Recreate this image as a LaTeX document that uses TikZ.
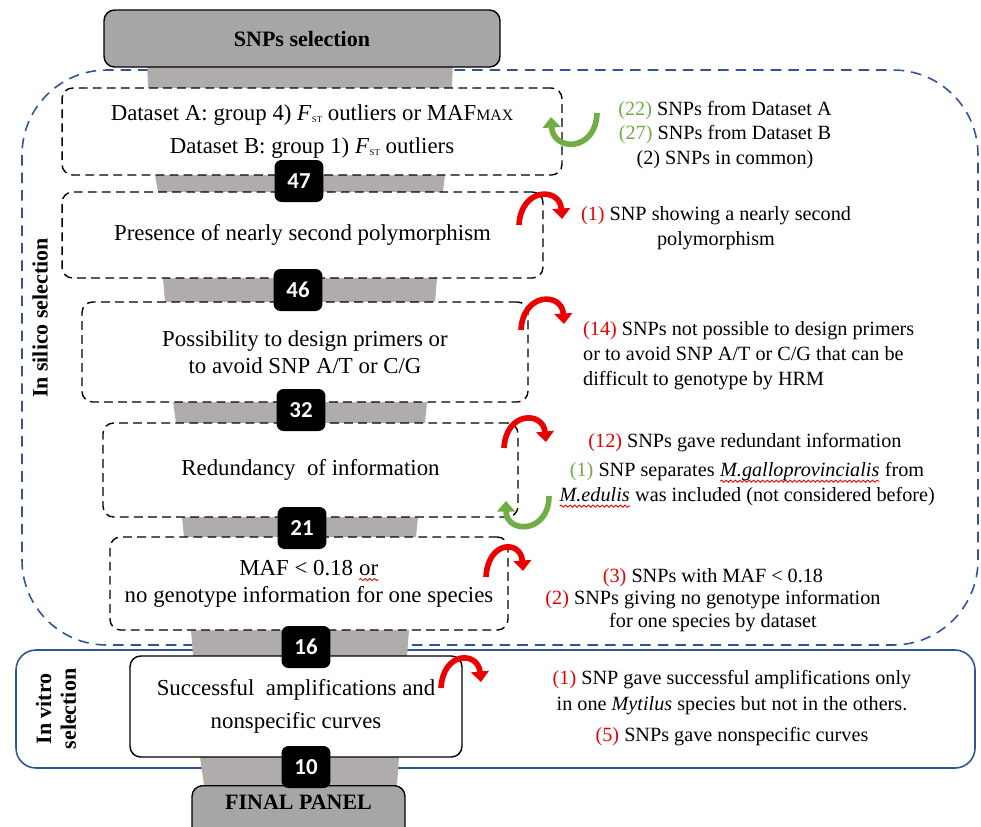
\documentclass[tikz,border=0pt]{standalone}
\usepackage{fontspec}
\setmainfont{Liberation Serif}
\newfontfamily\numfont{Carlito}
\usetikzlibrary{arrows.meta,decorations.pathmorphing}

\definecolor{funnelgray}{RGB}{176,172,172}
\definecolor{headgray}{RGB}{166,166,166}
\definecolor{silicoblue}{RGB}{47,85,151}
\definecolor{dropred}{RGB}{235,0,0}
\definecolor{keepgreen}{RGB}{112,173,71}

\tikzset{
  stagebox/.style={draw, dash pattern=on 5pt off 3pt, line width=0.8pt, rounded corners=6pt,
    fill=white, align=center, font=\fontsize{13}{15.5}\selectfont},
  numbox/.style={fill=black, rounded corners=4pt, text=white, font=\numfont\bfseries\fontsize{13}{13}\selectfont,
    minimum width=0.98cm, minimum height=0.84cm, inner sep=0pt},
  headbox/.style={draw, line width=0.8pt, fill=headgray, rounded corners=6pt, font=\bfseries\fontsize{12.5}{14}\selectfont},
  dropcurve/.style={draw=dropred, line width=3.2pt, -{Triangle[length=6pt,width=10pt]}},
  keepcurve/.style={draw=keepgreen, line width=3.2pt, -{Triangle[length=6pt,width=10pt]}},
  sidetext/.style={align=center, font=\fontsize{11.5}{14.2}\selectfont},
  plainword/.style={draw=none, fill=none, minimum width=0pt, minimum height=0pt, inner sep=0pt,
    outer sep=0pt, sharp corners, solid, align=left},
}

% F_ST and the red wavy spell-check line
\newcommand{\Fst}{\textit{F}\kern0.3pt\raisebox{-0.2ex}{\fontsize{5}{5}\selectfont ST}}
\newcommand{\squig}[1]{\tikz[baseline=(w.base)]{\node[plainword] (w) {#1};
  \draw[dropred, solid, sharp corners, line width=0.5pt, decorate, decoration={snake,amplitude=0.6pt,segment length=2.6pt}]
    ([yshift=-2.6pt]w.base west) -- ([yshift=-2.6pt]w.base east);}}

\begin{document}
\begin{tikzpicture}[x=0.02cm, y=-0.02cm]

    \useasboundingbox (0,0) rectangle (981,826);

    % In silico frame (dashed blue) and in vitro frame (solid blue)
    \draw[silicoblue, line width=0.9pt, dash pattern=on 6pt off 4pt, rounded corners=1.7cm] (22,70) rectangle (978,645);
    \draw[silicoblue, line width=0.9pt, rounded corners=0.4cm] (16,650) rectangle (975,768);

    % Funnel pieces between the stages
    \fill[funnelgray] (147,60) -- (453,60) -- (452,88) -- (148,88) -- cycle;
    \fill[funnelgray] (155,175) -- (445,175) -- (443,192) -- (158,192) -- cycle;
    \fill[funnelgray] (163,278) -- (437,278) -- (435,302) -- (165,302) -- cycle;
    \fill[funnelgray] (173,402) -- (427,402) -- (425,423) -- (176,423) -- cycle;
    \fill[funnelgray] (182,517) -- (418,517) -- (416,537) -- (184,537) -- cycle;
    \fill[funnelgray] (191,630) -- (409,630) -- (407,656) -- (193,656) -- cycle;
    \fill[funnelgray] (200,757) -- (399,757) -- (397,785) -- (204,785) -- cycle;

    % Header
    \node[headbox, minimum width=7.92cm, minimum height=1.14cm] (head) at (302,38.5) {SNPs selection};

    % Selection stages
    \node[stagebox, minimum width=10cm, minimum height=1.74cm] (stageA) at (312,131.5)
        {Dataset A: group 4) \Fst{} outliers or MAF{\fontsize{9}{9}\selectfont MAX}\\[3pt] Dataset B: group 1) \Fst{} outliers};
    \node[stagebox, minimum width=9.62cm, minimum height=1.72cm] (stageB) at (302.5,235)
        {Presence of nearly second polymorphism};
    \node[stagebox, minimum width=8.92cm, minimum height=2cm] (stageC) at (305,352)
        {Possibility to design primers or\\ to avoid SNP A/T or C/G};
    \node[stagebox, minimum width=8.3cm, minimum height=1.88cm] (stageD) at (310.5,470)
        {Redundancy\ \ of information};
    \node[stagebox, minimum width=7.96cm, minimum height=1.86cm] (stageE) at (309,583.5)
        {MAF < 0.18 \squig{or}\\ no genotype information for one species};
    \node[stagebox, solid, minimum width=6.64cm, minimum height=2.02cm] (stageF) at (296,706.5)
        {Successful\ \ amplifications and\\[3pt] nonspecific curves};

    % Final panel
    \node[headbox, anchor=north, inner ysep=0.18cm, text height=0.3cm, text depth=0.9cm, minimum width=4.26cm] (final) at (298.5,785) {FINAL PANEL};

    % SNP counts
    \node[numbox] (n47) at (299,181) {47};
    \node[numbox] (n46) at (298,290) {46};
    \node[numbox] (n32) at (301,410) {32};
    \node[numbox] (n21) at (302,528) {21};
    \node[numbox] (n16) at (306,647) {16};
    \node[numbox] (n10) at (306,767) {10};

    % Side labels
    \node[rotate=90, font=\bfseries\fontsize{12.5}{14}\selectfont] (silico) at (40,318) {In silico selection};
    \node[rotate=90, align=center, font=\bfseries\fontsize{12.5}{14}\selectfont] (vitro) at (56,709) {In vitro\\ selection};

    % Curved arrows
    \draw[keepcurve] (597,113) .. controls (596,152) and (553,152) .. (551,117);
    \draw[dropcurve] (519,225) .. controls (521,187) and (560,187) .. (562,219);
    \draw[dropcurve] (521,330) .. controls (523,292) and (562,292) .. (564,324);
    \draw[dropcurve] (504,448) .. controls (506,411) and (543,411) .. (546,442);
    \draw[keepcurve] (549,496) .. controls (549,534) and (506,534) .. (506,501);
    \draw[dropcurve] (486,577) .. controls (488,540) and (521,540) .. (523,571);
    \draw[dropcurve] (441,688) .. controls (443,651) and (478,651) .. (481,682);

    % Notes on the right
    \node[sidetext] (noteA) at (725,135)
        {\textcolor{keepgreen}{(22)} SNPs from Dataset A\\ \textcolor{keepgreen}{(27)} SNPs from Dataset B\\ (2) SNPs in common)};
    \node[sidetext] (noteB) at (716,228.5)
        {\textcolor{dropred}{(1)} SNP showing a nearly second\\ polymorphism};
    \node[sidetext, align=left, anchor=west] (noteC) at (577,355.5)
        {\textcolor{dropred}{(14)} SNPs not possible to design primers\\ or to avoid SNP A/T or C/G that can be\\ difficult to genotype by HRM};
    \node[sidetext] (noteD) at (745,443)
        {\textcolor{dropred}{(12)} SNPs gave redundant information};
    \node[sidetext] (noteE) at (747,485)
        {\textcolor{keepgreen}{(1)} SNP separates \squig{\textit{M.galloprovincialis}} from\\ \squig{\textit{M.edulis}} was included (not considered before)};
    \node[sidetext, font=\fontsize{11.5}{13}\selectfont] (noteF) at (713,600)
        {\textcolor{dropred}{(3)} SNPs with MAF < 0.18\\ \textcolor{dropred}{(2)} SNPs giving no genotype information\\ for one species by dataset};
    \node[sidetext, font=\fontsize{11.5}{14.8}\selectfont] (noteG) at (732,693)
        {\textcolor{dropred}{(1)} SNP gave successful amplifications only\\ in one \textit{Mytilus} species but not in the others.};
    \node[sidetext] (noteH) at (732,737)
        {\textcolor{dropred}{(5)} SNPs gave nonspecific curves};

\end{tikzpicture}
\end{document}
